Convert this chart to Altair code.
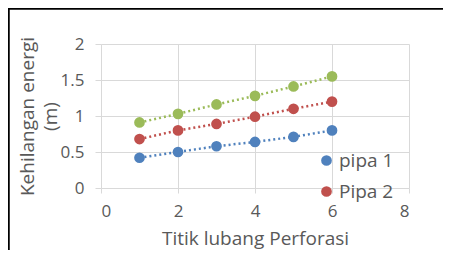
import altair as alt
import pandas as pd

x_vals = [1, 2, 3, 4, 5, 6]
pipa1 = [0.42, 0.50, 0.58, 0.64, 0.71, 0.80]
pipa2 = [0.68, 0.80, 0.89, 0.99, 1.10, 1.20]
pipa3 = [0.91, 1.03, 1.16, 1.28, 1.41, 1.55]
series_names = ["pipa 1", "Pipa 2", "Pipa 3"]
colors = ["#4F81BD", "#C0504D", "#9BBB59"]

rows = []
for name, vals in zip(series_names, [pipa1, pipa2, pipa3]):
    for xv, yv in zip(x_vals, vals):
        rows.append({"x": xv, "y": yv, "series": name})
df = pd.DataFrame(rows)

FONT = "Open Sans"
TXT = "#595959"
GRID = "#D9D9D9"

xenc = alt.X("x:Q", scale=alt.Scale(domain=[0, 8]),
             axis=alt.Axis(values=[0, 2, 4, 6, 8], title="Titik lubang Perforasi",
                           ticks=True, tickSize=5, tickColor=GRID, domain=False,
                           labelPadding=10, titlePadding=10,
                           labelFontSize=17, titleFontSize=19, labelColor=TXT, titleColor=TXT,
                           labelFont=FONT, titleFont=FONT, titleFontWeight="normal",
                           gridColor=GRID, labelExpr="datum.value"))
yenc = alt.Y("y:Q", scale=alt.Scale(domain=[0, 2]),
             axis=alt.Axis(values=[0, 0.5, 1, 1.5, 2], title=["Kehilangan energi", "(m)"],
                           ticks=True, tickSize=6, tickColor=GRID, domain=False,
                           labelPadding=11, titlePadding=0,
                           labelFontSize=17, titleFontSize=19, labelColor=TXT, titleColor=TXT,
                           labelFont=FONT, titleFont=FONT, titleFontWeight="normal",
                           titleLineHeight=23,
                           gridColor=GRID, labelExpr="datum.value"))
color = alt.Color("series:N", scale=alt.Scale(domain=series_names, range=colors),
                  legend=alt.Legend(values=["pipa 1", "Pipa 2"], title=None, orient="none",
                                    legendX=216, legendY=107, symbolType="circle",
                                    symbolSize=115, symbolStrokeWidth=0, labelFontSize=19,
                                    labelFont=FONT, labelColor=TXT, rowPadding=11,
                                    labelOffset=3))

lines = alt.Chart(df).mark_line(strokeDash=[2, 3], strokeWidth=2.5).encode(
    x=xenc, y=yenc, color=color, detail="series:N")
points = alt.Chart(df).mark_point(filled=True, shape="circle", size=115, opacity=1).encode(
    x=xenc, y=yenc, color=color)

frame = pd.DataFrame({"a": [0]})
top_line = alt.Chart(frame).mark_rule(color="#000000", strokeWidth=2.5, clip=False).encode(
    x=alt.value(-93), x2=alt.value(343), y=alt.value(-35.5))
left_line = alt.Chart(frame).mark_rule(color="#000000", strokeWidth=2.5, clip=False).encode(
    x=alt.value(-92.5), y=alt.value(-36), y2=alt.value(210))

chart = alt.layer(lines, points, top_line, left_line).properties(
    width=308, height=144,
    autosize=alt.AutoSizeParams(type="none"),
    padding={"left": 93, "top": 36, "right": 34, "bottom": 62},
).configure_view(stroke=None)

chart.save("out.html", embed_options={"renderer": "svg", "actions": False})
